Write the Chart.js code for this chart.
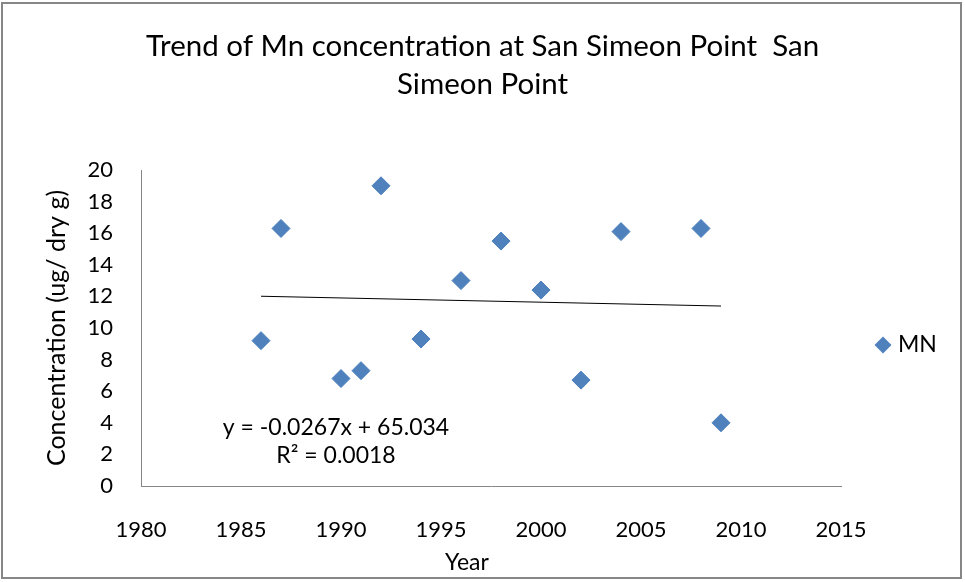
<!DOCTYPE html>
<html>
<head>
<meta charset="utf-8">
<script src="https://cdn.jsdelivr.net/npm/chart.js@4/dist/chart.umd.min.js"></script>
<style>
  html, body { margin: 0; padding: 0; background: #ffffff; }
  #wrap { width: 965px; height: 582px; position: relative; }
</style>
</head>
<body>
<div id="wrap"><canvas id="c" width="965" height="582"></canvas></div>
<script>
// ---- Data ----
const years = [1986, 1987, 1990, 1991, 1992, 1994, 1996, 1998, 2000, 2002, 2004, 2008, 2009];
const mnValues = [9.2, 16.3, 6.8, 7.3, 19.0, 9.3, 13.0, 15.5, 12.4, 6.7, 16.1, 16.3, 4.0];
const trendYears = [1986, 2009];
const trendValues = [12.01, 11.39];
const seriesName = 'MN';
const titleLines = ['Trend of Mn concentration at San Simeon Point  San', 'Simeon Point'];
const xAxisTitle = 'Year';
const yAxisTitle = 'Concentration (ug/ dry g)';
const equationLines = ['y = -0.0267x + 65.034', 'R\u00B2 = 0.0018'];

const FONT = 'Lato, "Open Sans", sans-serif';
const BLUE = '#4F81BD';

const framePlugin = {
  id: 'frame',
  afterDraw(chart) {
    const ctx = chart.ctx;
    ctx.save();
    // outer border
    ctx.strokeStyle = '#868686';
    ctx.lineWidth = 2;
    ctx.strokeRect(2, 3, 959, 575);
    ctx.fillStyle = '#000';
    ctx.textBaseline = 'middle';
    // x axis title
    ctx.font = '23px ' + FONT;
    ctx.textAlign = 'center';
    ctx.fillText(xAxisTitle, 467, 563);
    // trendline equation
    ctx.fillText(equationLines[0], 336, 428);
    ctx.fillText(equationLines[1], 336, 456);
    // legend
    const lx = 883, ly = 345, r = 8.5;
    ctx.fillStyle = BLUE;
    ctx.beginPath();
    ctx.moveTo(lx - r, ly); ctx.lineTo(lx, ly - r); ctx.lineTo(lx + r, ly); ctx.lineTo(lx, ly + r);
    ctx.closePath(); ctx.fill();
    ctx.fillStyle = '#000';
    ctx.textAlign = 'left';
    ctx.font = '23px ' + FONT;
    ctx.fillText(seriesName, 898, ly);
    ctx.restore();
  }
};

new Chart(document.getElementById('c'), {
  type: 'scatter',
  data: {
    datasets: [
      {
        label: seriesName,
        data: years.map((y, i) => ({ x: y, y: mnValues[i] })),
        pointStyle: 'rectRot',
        pointRadius: 9,
        pointHoverRadius: 9,
        backgroundColor: BLUE,
        borderColor: '#4A7EBB',
        borderWidth: 1
      },
      {
        label: 'Trend',
        type: 'line',
        data: trendYears.map((y, i) => ({ x: y, y: trendValues[i] })),
        borderColor: '#000000',
        borderWidth: 1,
        pointRadius: 0,
        fill: false
      }
    ]
  },
  options: {
    responsive: false,
    animation: false,
    layout: { padding: 0 },
    plugins: {
      legend: { display: false },
      tooltip: { enabled: false },
      title: {
        display: true,
        text: titleLines,
        color: '#000',
        font: { family: FONT, size: 29.5, weight: 'normal', lineHeight: '38px' },
        padding: { top: 27, bottom: 67 }
      }
    },
    scales: {
      x: {
        type: 'linear',
        min: 1980, max: 2015,
        afterFit(s) { s.height = 96; },
        ticks: { stepSize: 5, color: '#000', padding: 31, font: { family: FONT, size: 22 }, maxRotation: 0,
                 callback: v => String(v) },
        grid: { display: false, drawTicks: false },
        border: { display: true, color: '#868686', width: 1 },
        title: { display: false }
      },
      y: {
        min: 0, max: 20,
        afterFit(s) { s.width = 141; },
        ticks: { stepSize: 2, color: '#000', padding: 28, font: { family: FONT, size: 22 } },
        grid: { display: false, drawTicks: false },
        border: { display: true, color: '#868686', width: 1 },
        title: { display: true, text: yAxisTitle, color: '#000', font: { family: FONT, size: 25 }, padding: { top: 42, bottom: 0 } }
      },
      yRight: {
        position: 'right',
        min: 0, max: 20,
        afterFit(s) { s.width = 124; },
        ticks: { display: false },
        grid: { display: false, drawTicks: false },
        border: { display: false },
        title: { display: false }
      }
    }
  },
  plugins: [framePlugin]
});
</script>
</body>
</html>
